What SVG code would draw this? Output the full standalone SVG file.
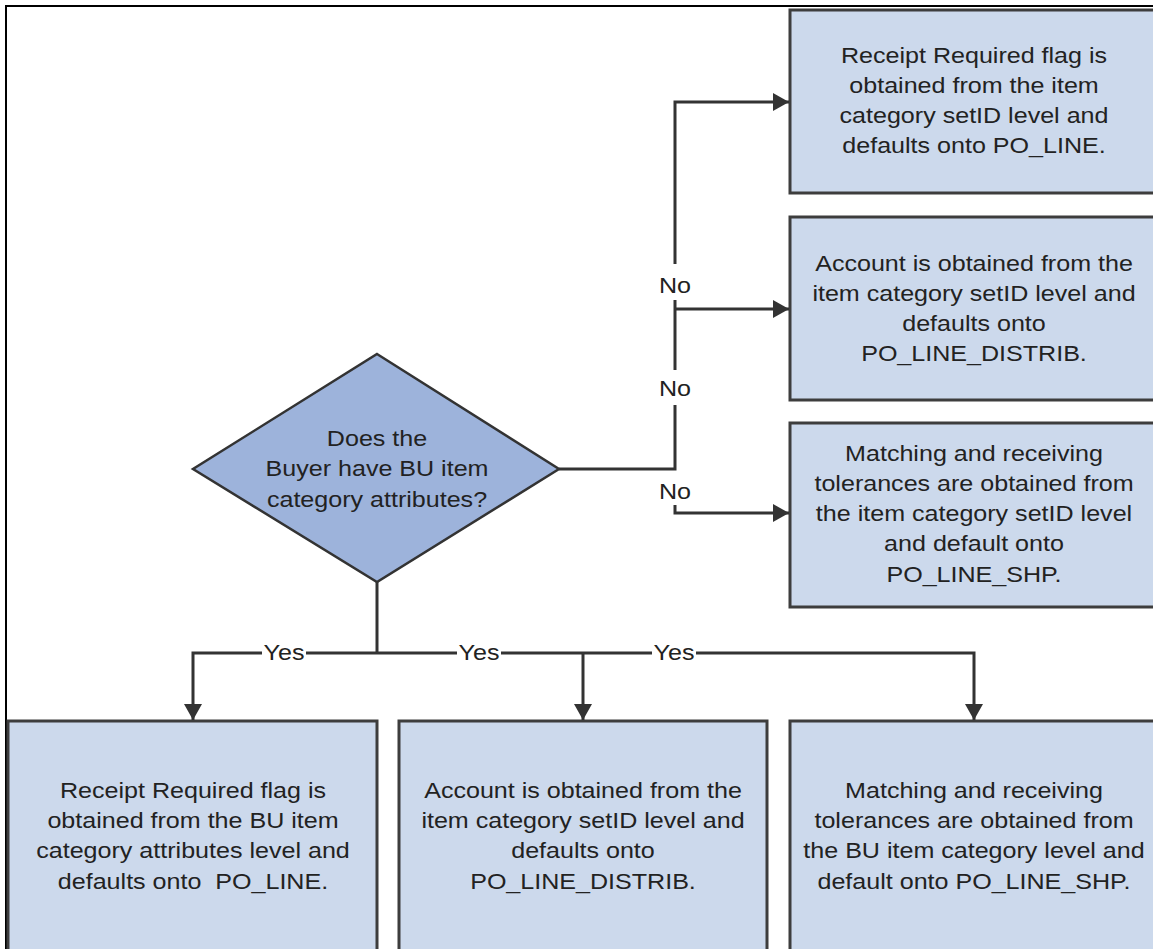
<svg xmlns="http://www.w3.org/2000/svg" width="1153" height="949" viewBox="0 0 1153 949">
  <defs>
    <marker id="arrow" viewBox="0 0 16 18" refX="16" refY="9" markerWidth="16" markerHeight="18" markerUnits="userSpaceOnUse" orient="auto">
      <path d="M0,0 L16,9 L0,18 z" fill="#333"/>
    </marker>
    <style>
      .box { fill: #CCD9EC; stroke: #3d3d3d; stroke-width: 3; }
      .dia { fill: #9DB3DB; stroke: #333; stroke-width: 2.5; }
      .line { fill: none; stroke: #333; stroke-width: 3; }
      .arr { fill: none; stroke: #333; stroke-width: 3; marker-end: url(#arrow); }
      .t { font-family: "Liberation Sans", Arial, sans-serif; font-size: 22px; fill: #222; text-anchor: middle; }
      .frame { stroke: #000; stroke-width: 2; fill: none; }
    </style>
  </defs>
  <rect x="0" y="0" width="1153" height="949" fill="#fff"/>
  <path class="frame" d="M6,949 V6 H1153"/>

  <g id="decision">
    <polygon class="dia" points="377,354 559,469 377,582 193,469"/>
    <g transform="translate(377,0) scale(1.14,1)">
      <text class="t"><tspan x="0" y="446">Does the</tspan><tspan x="0" y="476">Buyer have BU item</tspan><tspan x="0" y="507">category attributes?</tspan></text>
    </g>
  </g>

  <g id="no-receipt">
    <rect class="box" x="790" y="10" width="368" height="183"/>
    <g transform="translate(974,0) scale(1.14,1)">
      <text class="t"><tspan x="0" y="63">Receipt Required flag is</tspan><tspan x="0" y="93">obtained from the item</tspan><tspan x="0" y="123">category setID level and</tspan><tspan x="0" y="153">defaults onto PO_LINE.</tspan></text>
    </g>
  </g>

  <g id="no-account">
    <rect class="box" x="790" y="217" width="368" height="183"/>
    <g transform="translate(974,0) scale(1.14,1)">
      <text class="t"><tspan x="0" y="271">Account is obtained from the</tspan><tspan x="0" y="301">item category setID level and</tspan><tspan x="0" y="331">defaults onto</tspan><tspan x="0" y="361">PO_LINE_DISTRIB.</tspan></text>
    </g>
  </g>

  <g id="no-tolerances">
    <rect class="box" x="790" y="423" width="368" height="184"/>
    <g transform="translate(974,0) scale(1.14,1)">
      <text class="t"><tspan x="0" y="461">Matching and receiving</tspan><tspan x="0" y="491">tolerances are obtained from</tspan><tspan x="0" y="521">the item category setID level</tspan><tspan x="0" y="551">and default onto</tspan><tspan x="0" y="582">PO_LINE_SHP.</tspan></text>
    </g>
  </g>

  <g id="yes-receipt">
    <rect class="box" x="8" y="721" width="369" height="240"/>
    <g transform="translate(193,0) scale(1.14,1)">
      <text class="t"><tspan x="0" y="798">Receipt Required flag is</tspan><tspan x="0" y="828">obtained from the BU item</tspan><tspan x="0" y="858">category attributes level and</tspan><tspan x="0" y="889">defaults onto&#160; PO_LINE.</tspan></text>
    </g>
  </g>

  <g id="yes-account">
    <rect class="box" x="399" y="721" width="368" height="240"/>
    <g transform="translate(583,0) scale(1.14,1)">
      <text class="t"><tspan x="0" y="798">Account is obtained from the</tspan><tspan x="0" y="828">item category setID level and</tspan><tspan x="0" y="858">defaults onto</tspan><tspan x="0" y="889">PO_LINE_DISTRIB.</tspan></text>
    </g>
  </g>

  <g id="yes-tolerances">
    <rect class="box" x="790" y="721" width="368" height="240"/>
    <g transform="translate(974,0) scale(1.14,1)">
      <text class="t"><tspan x="0" y="798">Matching and receiving</tspan><tspan x="0" y="828">tolerances are obtained from</tspan><tspan x="0" y="858">the BU item category level and</tspan><tspan x="0" y="889">default onto PO_LINE_SHP.</tspan></text>
    </g>
  </g>

  <g id="connectors">
    <path class="line" d="M559,469 H675 V405"/>
    <path class="line" d="M675,370 V300"/>
    <path class="arr" d="M675,264 V102 H789"/>
    <path class="arr" d="M675,309 H789"/>
    <path class="arr" d="M675,505 V513 H789"/>
    <path class="line" d="M377,582 V653"/>
    <path class="arr" d="M262,653 H193 V720"/>
    <path class="line" d="M306,653 H457"/>
    <path class="line" d="M501,653 H652"/>
    <path class="arr" d="M583,653 V720"/>
    <path class="arr" d="M696,653 H974 V720"/>
    <g transform="translate(675,0) scale(1.14,1)">
      <text class="t" x="0" y="293">No</text>
      <text class="t" x="0" y="396">No</text>
      <text class="t" x="0" y="499">No</text>
    </g>
    <g transform="translate(284,0) scale(1.14,1)"><text class="t" x="0" y="660">Yes</text></g>
    <g transform="translate(479,0) scale(1.14,1)"><text class="t" x="0" y="660">Yes</text></g>
    <g transform="translate(674,0) scale(1.14,1)"><text class="t" x="0" y="660">Yes</text></g>
  </g>
</svg>
